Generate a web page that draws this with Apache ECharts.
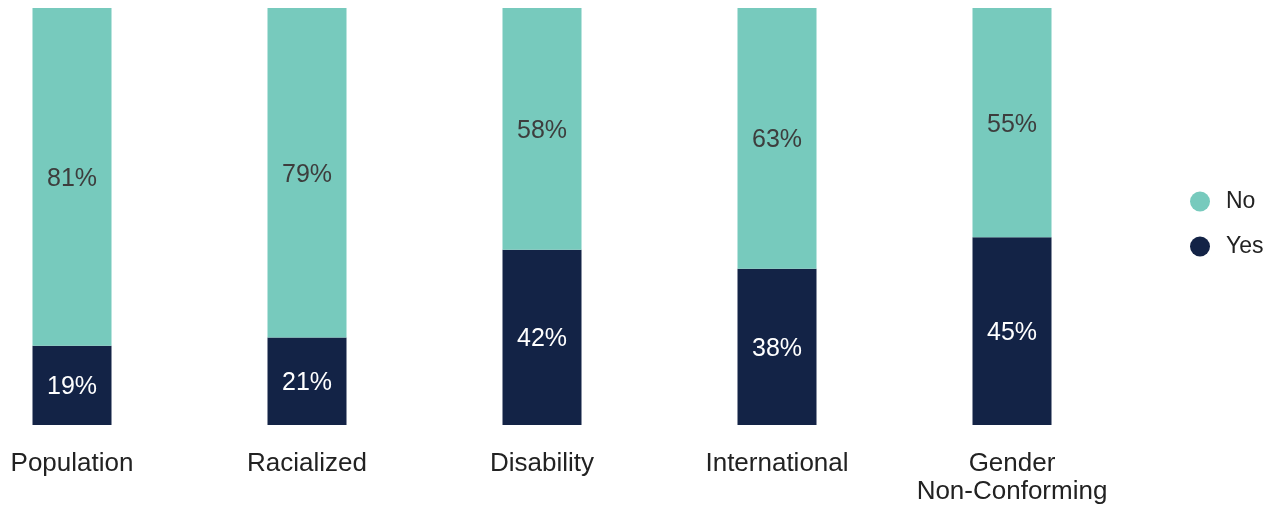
<!DOCTYPE html>
<html>
<head>
<meta charset="utf-8">
<script src="https://cdn.jsdelivr.net/npm/echarts@6/dist/echarts.min.js"></script>
<style>
  html, body { margin: 0; padding: 0; background: #fff; }
  #chart { width: 1276px; height: 508px; }
</style>
</head>
<body>
<div id="chart"></div>
<script>
// groups along the x axis
var groups = ['Population', 'Racialized', 'Disability', 'International', 'Gender\nNon-Conforming'];
// share answering Yes / No (percent)
var yesValues = [19, 21, 42, 37.5, 45];
var noValues = [81, 79, 58, 62.5, 55];

var chart = echarts.init(document.getElementById('chart'));

function pct(p) {
    return Math.round(p.value) + '%';
}

option = {
    animation: false,
    textStyle: { fontFamily: 'Liberation Sans, Arial, sans-serif' },
    legend: {
        orient: 'vertical',
        left: 1190,
        top: 190,
        padding: 0,
        icon: 'circle',
        itemWidth: 20,
        itemHeight: 20,
        itemGap: 22,
        data: ['No', 'Yes'],
        textStyle: { fontSize: 23, color: '#222', padding: [0, 0, 0, 11] }
    },
    // ticks sit on the bar centres (boundaryGap off), bars overhang the grid edges
    grid: { left: 72, width: 940, top: 8, bottom: 83 },
    xAxis: {
        type: 'category',
        boundaryGap: false,
        data: groups,
        axisLine: { show: false },
        axisTick: { show: false },
        axisLabel: { fontSize: 26, color: '#222', margin: 25, lineHeight: 28, interval: 0 }
    },
    yAxis: {
        type: 'value',
        min: 0,
        max: 100,
        show: false,
        splitLine: { show: false }
    },
    series: [
        {
            name: 'Yes',
            type: 'bar',
            stack: 'all',
            barWidth: 79,
            clip: false,
            data: yesValues,
            itemStyle: { color: '#132346' },
            label: { show: true, position: 'inside', offset: [0, 2], fontSize: 25, color: '#fff', formatter: pct }
        },
        {
            name: 'No',
            type: 'bar',
            stack: 'all',
            barWidth: 79,
            clip: false,
            data: noValues,
            itemStyle: { color: '#77cabd' },
            label: { show: true, position: 'inside', offset: [0, 2], fontSize: 25, color: '#3d3d3d', formatter: pct }
        }
    ]
};
chart.setOption(option);
</script>
</body>
</html>
